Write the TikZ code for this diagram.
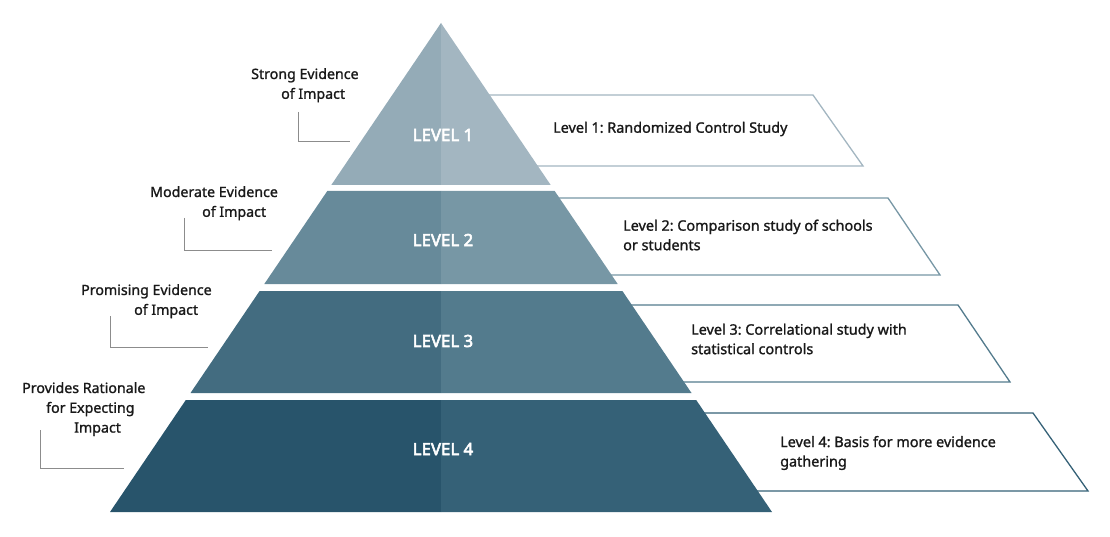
\documentclass[tikz,border=0pt]{standalone}
\usepackage{fontspec}
\setmainfont{Noto Sans}
\newfontfamily\medfont{Noto Sans}[FakeBold=1.3]
\newfontfamily\heavyfont{Noto Sans}[FakeBold=3.2]
\frenchspacing
\begin{document}
\begin{tikzpicture}[x=1pt,y=-1pt,
  lvltext/.style={font=\heavyfont\fontsize{16.8}{18}\selectfont, text=white},
  desc/.style={font=\medfont\fontsize{14.4}{19.5}\selectfont, text=black!90, align=left, anchor=west, inner sep=0pt},
  side/.style={font=\medfont\fontsize{14.2}{19.8}\selectfont, text=black!90, align=left, anchor=north west, inner sep=0pt},
  callout/.style={draw=black!45, line width=0.8pt},
  box/.style={line width=1.3pt, fill=white}]
\useasboundingbox (0,0) rectangle (1110,537);
\definecolor{aL}{HTML}{94ABB7}\definecolor{aR}{HTML}{A3B6C1}
\definecolor{bL}{HTML}{678A9A}\definecolor{bR}{HTML}{7797A5}
\definecolor{cL}{HTML}{436C80}\definecolor{cR}{HTML}{537B8D}
\definecolor{dL}{HTML}{28546B}\definecolor{dR}{HTML}{356177}
% description boxes (left parts hidden behind the pyramid)
\draw[box, draw=aR] (441,95) -- (813,95) -- (863,166) -- (441,166);
\draw[box, draw=bR] (441,198) -- (888,198) -- (940,275) -- (441,275);
\draw[box, draw=cR] (441,305) -- (958,305) -- (1010,382) -- (441,382);
\draw[box, draw=dR] (441,413) -- (1033,413) -- (1088,491) -- (441,491);
% pyramid levels
\fill[aL] (441,23) -- (331.3,185) -- (441,185) -- cycle;
\fill[aR] (441,23) -- (550.7,185) -- (441,185) -- cycle;
\fill[bL] (441,191) -- (327.3,191) -- (264.3,284) -- (441,284) -- cycle;
\fill[bR] (441,191) -- (554.7,191) -- (617.7,284) -- (441,284) -- cycle;
\fill[cL] (441,291) -- (259.6,291) -- (190.5,393) -- (441,393) -- cycle;
\fill[cR] (441,291) -- (622.4,291) -- (691.5,393) -- (441,393) -- cycle;
\fill[dL] (441,400) -- (185.8,400) -- (110,512) -- (441,512) -- cycle;
\fill[dR] (441,400) -- (696.2,400) -- (772,512) -- (441,512) -- cycle;
% level labels
\node[lvltext] (l1) at (443,135) {LEVEL 1};
\node[lvltext] (l2) at (443,240) {LEVEL 2};
\node[lvltext] (l3) at (443,341) {LEVEL 3};
\node[lvltext] (l4) at (443,449) {LEVEL 4};
% descriptions
\node[desc] (d1) at (553,129) {Level 1: Randomized Control Study};
\node[desc] (d2) at (623,235) {Level 2: Comparison study of schools\\or students};
\node[desc] (d3) at (691,339) {Level 3: Correlational study with\\statistical controls};
\node[desc] (d4) at (780,453) {Level 4: Basis for more evidence\\gathering};
% side labels
\node[side] (s1) at (251,68) {Strong Evidence\\\hspace*{30pt}of Impact};
\node[side] (s2) at (150,186) {Moderate Evidence\\\hspace*{52pt}of Impact};
\node[side] (s3) at (81,284) {Promising Evidence\\\hspace*{53pt}of Impact};
\node[side] (s4) at (22,382) {Provides Rationale\\\hspace*{24pt}for Expecting\\\hspace*{52pt}Impact};
% callout lines
\coordinate (c1) at (350,141);
\coordinate (c2) at (272,250);
\coordinate (c3) at (208,347);
\coordinate (c4) at (124,468);
\draw[callout] (298,112) |- (c1);
\draw[callout] (184,218) |- (c2);
\draw[callout] (110,316) |- (c3);
\draw[callout] (40,430) |- (c4);
\end{tikzpicture}
\end{document}
